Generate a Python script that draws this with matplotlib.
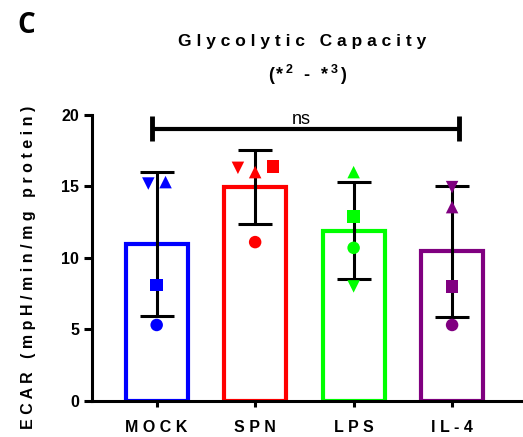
import matplotlib.pyplot as plt
import numpy as np

plt.rcParams['font.family'] = ['Liberation Sans', 'DejaVu Sans']

groups = ["MOCK", "SPN", "LPS", "IL-4"]
colors = ["#0000ff", "#ff0000", "#00ff00", "#800080"]

# one replicate per marker shape in each group
circle = [5.3, 11.1, 10.7, 5.3]
square = [8.1, 16.4, 12.9, 8.0]
tri_up = [15.3, 16.0, 16.0, 13.55]
tri_down = [15.2, 16.3, 8.0, 14.95]

yticks = [0, 5, 10, 15, 20]

# sideways nudge so overlapping replicates stay visible
markers = ["o", "s", "^", "v"]
nudge = {
    "o": [0, 0, 0, 0],
    "s": [0, 0.18, 0, 0],
    "^": [0.09, 0, 0, 0],
    "v": [-0.085, -0.175, 0, 0],
}


def spaced(s):
    return " ".join(s)


fig = plt.figure(figsize=(5.23, 4.37), dpi=100)
ax = fig.add_axes([0.1753, 0.0831, 0.8247, 0.6538])

x = np.arange(len(groups))
data = np.array([circle, square, tri_up, tri_down])
means = data.mean(axis=0)
sds = data.std(axis=0, ddof=1)

ax.bar(x, means, width=0.63, color="white", edgecolor=colors, linewidth=3, zorder=2)
ax.errorbar(x, means, yerr=sds, fmt="none", ecolor="black", elinewidth=2.2,
            capsize=12, capthick=2.2, zorder=3)
for vals, m in zip(data, markers):
    ax.scatter(x + np.array(nudge[m]), vals, marker=m, s=81, c=colors,
               linewidths=0, zorder=4)

# significance bracket across all groups
bl, br, by = x[0] - 0.045, x[-1] + 0.07, 19.05
ax.plot([bl, br], [by, by], color="black", lw=3, solid_capstyle="butt", clip_on=False, zorder=5)
ax.plot([bl, bl], [18.15, 19.9], color="black", lw=3.5, solid_capstyle="butt", clip_on=False, zorder=5)
ax.plot([br, br], [18.15, 19.9], color="black", lw=3.5, solid_capstyle="butt", clip_on=False, zorder=5)
ax.text((bl + br) / 2 - 0.04, 19.4, "ns", ha="center", va="baseline", fontsize=13)

ax.set_xlim(-0.66, 3.72)
ax.set_ylim(0, 20)
ax.set_yticks(yticks)
ax.set_yticklabels([str(t) for t in yticks], fontweight="bold", fontsize=11.5)
ax.set_xticks(x)
ax.set_xticklabels([spaced(g) for g in groups], fontweight="bold", fontsize=11.5)
ax.tick_params(axis="y", length=6, width=2.2, pad=3)
ax.tick_params(axis="x", length=4, width=2.2, pad=10)
ax.set_ylabel(spaced("ECAR (mpH/min/mg protein)"), fontweight="bold", fontsize=11.5)
ax.yaxis.set_label_coords(-0.128, 0.466)

for side in ["top", "right"]:
    ax.spines[side].set_visible(False)
for side in ["left", "bottom"]:
    ax.spines[side].set_linewidth(2.2)

fig.text(0.578, 0.894, spaced("Glycolytic") + "   " + spaced("Capacity"),
         ha="center", va="baseline", fontweight="bold", fontsize=12.5)

# subtitle with raised exponents, each piece placed after the previous one
base = fig.text(0.512, 0.818, "(", ha="left", va="baseline",
                fontweight="bold", fontsize=13)
prev = base
for s, gap, sup in [("*", 1.5, False), ("2", 2, True), ("-", 8, False),
                    ("*", 8, False), ("3", 2, True), (")", 2, False)]:
    prev = ax.annotate(s, xy=(1, 0), xycoords=(prev, base),
                       xytext=(gap, 5.5 if sup else 0), textcoords="offset points",
                       ha="left", va="bottom", fontweight="bold",
                       fontsize=9 if sup else 13, annotation_clip=False)

fig.text(0.034, 0.925, "C", ha="left", va="baseline", fontweight="bold",
         fontsize=20, family=["Open Sans", "DejaVu Sans"])

fig.savefig("out.png", dpi=100)
